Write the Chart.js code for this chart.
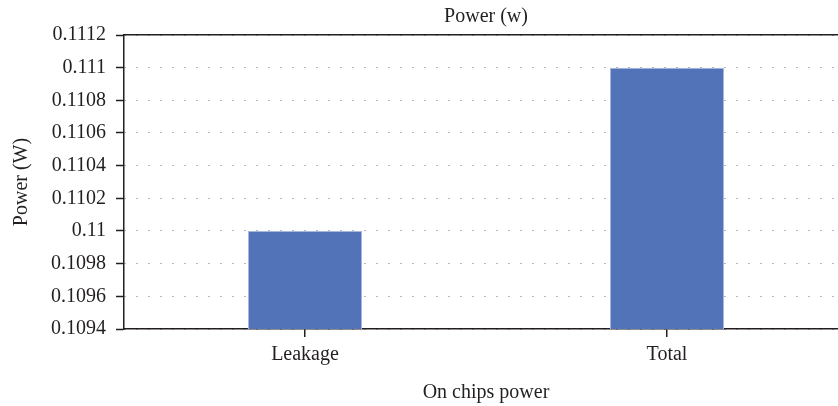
<!DOCTYPE html>
<html><head><meta charset="utf-8">
<script src="https://cdn.jsdelivr.net/npm/chart.js@4"></script>
<style>
html,body{margin:0;padding:0;overflow:hidden;background:#fff;width:838px;height:406px}
#wrap{width:848px;height:406px;position:relative}
</style></head><body><div id="wrap"><canvas id="c"></canvas></div>
<script>
const categories = ['Leakage', 'Total'];
const powerValues = [0.1100, 0.1110];
const yMin = 0.1094;
const yMax = 0.1112;
const yStep = 0.0002;
const chartTitle = 'Power (w)';
const xTitle = 'On chips power';
const yTitle = 'Power (W)';

const FONT = "'Liberation Serif', 'Times New Roman', serif";
const TXT = '#231f20';
const f = (s) => ({family: FONT, size: s, weight: 'normal'});

new Chart(document.getElementById('c'), {
  type: 'bar',
  data: {
    labels: categories,
    datasets: [{
      data: powerValues,
      backgroundColor: '#5373b9',
      borderColor: '#a7b8df',
      borderWidth: 1,
      borderSkipped: 'bottom',
      categoryPercentage: 1,
      barPercentage: 0.315
    }]
  },
  options: {
    responsive: true,
    maintainAspectRatio: false,
    animation: false,
    layout: {padding: 0},
    plugins: {
      legend: {display: false},
      tooltip: {enabled: false},
      title: {
        display: true, text: chartTitle, fullSize: false, color: TXT,
        font: f(20), padding: {top: 5, bottom: 6}
      }
    },
    scales: {
      x: {
        position: 'bottom',
        offset: true,
        grid: {display: true, drawOnChartArea: false, drawTicks: true, tickLength: 8, tickColor: TXT, offset: false, lineWidth: 1.5},
        border: {display: true, color: TXT, width: 1.5},
        ticks: {color: TXT, font: f(20), padding: 6},
        title: {display: true, text: xTitle, color: TXT, font: f(20), padding: {top: 0, bottom: 1}},
        afterFit: (s) => { s.height = 77; }
      },
      xTop: {
        type: 'category',
        position: 'top',
        labels: categories,
        grid: {display: false},
        ticks: {display: false},
        border: {display: true, color: TXT, width: 1.5},
        afterFit: (s) => { s.height = 0; }
      },
      y: {
        min: yMin, max: yMax,
        ticks: {
          stepSize: yStep, color: TXT, font: f(20), padding: 10,
          callback: (v) => parseFloat(Number(v).toFixed(4)).toString()
        },
        grid: {color: '#6d6d6d', lineWidth: 1, tickColor: TXT, tickLength: 8, tickWidth: 1.5, tickBorderDash: []},
        border: {display: true, color: TXT, width: 1.5, dash: [1, 11], dashOffset: 0},
        title: {display: true, text: yTitle, color: TXT, font: f(20), padding: {top: 10, bottom: 0}},
        afterFit: (s) => { s.width = 124; }
      }
    }
  }
});
</script>
</body></html>
